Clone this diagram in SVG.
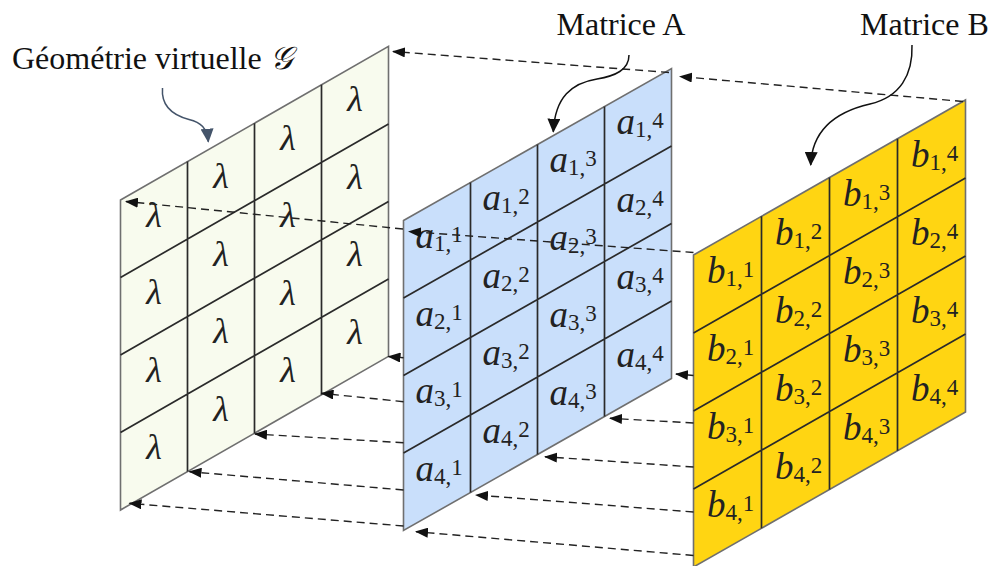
<svg xmlns="http://www.w3.org/2000/svg" width="997" height="566" viewBox="0 0 997 566">
<style>
.ol{stroke:#6f6f6f;stroke-width:1.6;stroke-linejoin:miter}
.in{stroke:#2a2a2a;stroke-width:1.7;fill:none}
.gf{fill:#f8fbee}
.af{fill:#c9dffb}
.bf{fill:#ffd512}
.lam{font-family:"Liberation Serif","Times New Roman",serif;font-style:italic;font-size:36px;fill:#222;text-anchor:middle}
.m{font-family:"Liberation Serif","Times New Roman",serif;font-style:italic;font-size:37px;fill:#222;text-anchor:middle}
.s{font-size:23px;font-style:normal}
.lbl{font-family:"Liberation Serif","Times New Roman",serif;font-size:32px;fill:#111}
.dash{fill:none;stroke:#222;stroke-width:1.4;stroke-dasharray:8 5;marker-end:url(#ah)}
.curve{fill:none;stroke:#111;stroke-width:1.5}
</style>
<defs>
<marker id="ah" markerUnits="userSpaceOnUse" markerWidth="13" markerHeight="10" refX="12" refY="5" orient="auto"><path d="M0,0 L13,5 L0,10 z" fill="#111"/></marker>
<marker id="ahc" markerUnits="userSpaceOnUse" markerWidth="14" markerHeight="13" refX="13" refY="6.5" orient="auto"><path d="M0,0 L14,6.5 L0,13 z" fill="#111"/></marker>
<marker id="ahg" markerUnits="userSpaceOnUse" markerWidth="14" markerHeight="13" refX="13" refY="6.5" orient="auto"><path d="M0,0 L14,6.5 L0,13 z" fill="#44546a"/></marker>
</defs>
<rect width="997" height="566" fill="#fff"/>

<g id="grid-G">
<polygon class="ol gf" points="120.5,200 388.5,46.4 388.5,356.4 120.5,510"/>
<path class="in" d="M187.5,161.6V471.6M254.5,123.2V433.2M321.5,84.8V394.8M120.5,277.5L388.5,123.9M120.5,355L388.5,201.4M120.5,432.5L388.5,278.9"/>
<text class="lam" x="154" y="226.5">λ</text>
<text class="lam" x="154" y="304">λ</text>
<text class="lam" x="154" y="381.5">λ</text>
<text class="lam" x="154" y="459">λ</text>
<text class="lam" x="221" y="188.1">λ</text>
<text class="lam" x="221" y="265.6">λ</text>
<text class="lam" x="221" y="343.1">λ</text>
<text class="lam" x="221" y="420.6">λ</text>
<text class="lam" x="288" y="149.7">λ</text>
<text class="lam" x="288" y="227.2">λ</text>
<text class="lam" x="288" y="304.7">λ</text>
<text class="lam" x="288" y="382.2">λ</text>
<text class="lam" x="355" y="111.3">λ</text>
<text class="lam" x="355" y="188.8">λ</text>
<text class="lam" x="355" y="266.3">λ</text>
<text class="lam" x="355" y="343.8">λ</text>
</g>

<g id="grid-A">
<polygon class="ol af" points="403.5,220.5 671.5,68.5 671.5,378.5 403.5,530.5"/>
<path class="in" d="M470.5,182.5V492.5M537.5,144.5V454.5M604.5,106.5V416.5M403.5,298L671.5,146M403.5,375.5L671.5,223.5M403.5,453L671.5,301"/>
<text class="m" x="439" y="248.25">a<tspan class="s" dy="3">1,</tspan><tspan class="s" dy="-9">1</tspan></text>
<text class="m" x="439" y="325.75">a<tspan class="s" dy="3">2,</tspan><tspan class="s" dy="-9">1</tspan></text>
<text class="m" x="439" y="403.25">a<tspan class="s" dy="3">3,</tspan><tspan class="s" dy="-9">1</tspan></text>
<text class="m" x="439" y="480.75">a<tspan class="s" dy="3">4,</tspan><tspan class="s" dy="-9">1</tspan></text>
<text class="m" x="506" y="210.25">a<tspan class="s" dy="3">1,</tspan><tspan class="s" dy="-9">2</tspan></text>
<text class="m" x="506" y="287.75">a<tspan class="s" dy="3">2,</tspan><tspan class="s" dy="-9">2</tspan></text>
<text class="m" x="506" y="365.25">a<tspan class="s" dy="3">3,</tspan><tspan class="s" dy="-9">2</tspan></text>
<text class="m" x="506" y="442.75">a<tspan class="s" dy="3">4,</tspan><tspan class="s" dy="-9">2</tspan></text>
<text class="m" x="573" y="172.25">a<tspan class="s" dy="3">1,</tspan><tspan class="s" dy="-9">3</tspan></text>
<text class="m" x="573" y="249.75">a<tspan class="s" dy="3">2,</tspan><tspan class="s" dy="-9">3</tspan></text>
<text class="m" x="573" y="327.25">a<tspan class="s" dy="3">3,</tspan><tspan class="s" dy="-9">3</tspan></text>
<text class="m" x="573" y="404.75">a<tspan class="s" dy="3">4,</tspan><tspan class="s" dy="-9">3</tspan></text>
<text class="m" x="640" y="134.25">a<tspan class="s" dy="3">1,</tspan><tspan class="s" dy="-9">4</tspan></text>
<text class="m" x="640" y="211.75">a<tspan class="s" dy="3">2,</tspan><tspan class="s" dy="-9">4</tspan></text>
<text class="m" x="640" y="289.25">a<tspan class="s" dy="3">3,</tspan><tspan class="s" dy="-9">4</tspan></text>
<text class="m" x="640" y="366.75">a<tspan class="s" dy="3">4,</tspan><tspan class="s" dy="-9">4</tspan></text>
</g>

<g id="grid-B">
<polygon class="ol bf" points="693.5,255 965.5,100 965.5,412 693.5,567"/>
<path class="in" d="M761.5,216.25V528.25M829.5,177.5V489.5M897.5,138.75V450.75M693.5,333L965.5,178M693.5,411L965.5,256M693.5,489L965.5,334"/>
<text class="m" x="730.5" y="283.3">b<tspan class="s" dy="3">1,</tspan><tspan class="s" dy="-9">1</tspan></text>
<text class="m" x="730.5" y="361.3">b<tspan class="s" dy="3">2,</tspan><tspan class="s" dy="-9">1</tspan></text>
<text class="m" x="730.5" y="439.3">b<tspan class="s" dy="3">3,</tspan><tspan class="s" dy="-9">1</tspan></text>
<text class="m" x="730.5" y="517.3">b<tspan class="s" dy="3">4,</tspan><tspan class="s" dy="-9">1</tspan></text>
<text class="m" x="798.5" y="244.55">b<tspan class="s" dy="3">1,</tspan><tspan class="s" dy="-9">2</tspan></text>
<text class="m" x="798.5" y="322.55">b<tspan class="s" dy="3">2,</tspan><tspan class="s" dy="-9">2</tspan></text>
<text class="m" x="798.5" y="400.55">b<tspan class="s" dy="3">3,</tspan><tspan class="s" dy="-9">2</tspan></text>
<text class="m" x="798.5" y="478.55">b<tspan class="s" dy="3">4,</tspan><tspan class="s" dy="-9">2</tspan></text>
<text class="m" x="866.5" y="205.8">b<tspan class="s" dy="3">1,</tspan><tspan class="s" dy="-9">3</tspan></text>
<text class="m" x="866.5" y="283.8">b<tspan class="s" dy="3">2,</tspan><tspan class="s" dy="-9">3</tspan></text>
<text class="m" x="866.5" y="361.8">b<tspan class="s" dy="3">3,</tspan><tspan class="s" dy="-9">3</tspan></text>
<text class="m" x="866.5" y="439.8">b<tspan class="s" dy="3">4,</tspan><tspan class="s" dy="-9">3</tspan></text>
<text class="m" x="934.5" y="167.05">b<tspan class="s" dy="3">1,</tspan><tspan class="s" dy="-9">4</tspan></text>
<text class="m" x="934.5" y="245.05">b<tspan class="s" dy="3">2,</tspan><tspan class="s" dy="-9">4</tspan></text>
<text class="m" x="934.5" y="323.05">b<tspan class="s" dy="3">3,</tspan><tspan class="s" dy="-9">4</tspan></text>
<text class="m" x="934.5" y="401.05">b<tspan class="s" dy="3">4,</tspan><tspan class="s" dy="-9">4</tspan></text>
</g>

<g id="connectors">
<path class="dash" d="M669,72.5L393,51.5"/>
<path class="dash" d="M403,229L126,201.5"/>
<path class="dash" d="M403.5,357.8L388.5,356.5"/>
<path class="dash" d="M403.5,401.7L321.5,393.3"/>
<path class="dash" d="M403.5,442.7L255,434"/>
<path class="dash" d="M403.5,490L189.5,471.7"/>
<path class="dash" d="M403.5,526L129.5,503.3"/>
<path class="dash" d="M963,101.5L680,76.5"/>
<path class="dash" d="M693.5,252.5L409,231.5"/>
<path class="dash" d="M693.5,375.5L676,374"/>
<path class="dash" d="M693.5,423L610,418.3"/>
<path class="dash" d="M693.5,467L545,456.7"/>
<path class="dash" d="M693.5,512L476,495"/>
<path class="dash" d="M693.5,555.5L416,531.7"/>
</g>

<g id="label-G">
<text class="lbl" x="12" y="68.5">Géométrie virtuelle <tspan font-style="italic" font-family="'DejaVu Serif','Noto Sans','Liberation Serif',serif">𝒢</tspan></text>
<path d="M162.5,88 C161,106 172,115 189,119.5 C201,122.5 207,128 208.3,141.7" fill="none" stroke="#44546a" stroke-width="1.5" marker-end="url(#ahg)"/>
</g>
<g id="label-A">
<text class="lbl" x="556.5" y="35">Matrice A</text>
<path class="curve" d="M629,55 C629,70 615,76 597,79 C572,83 555,97 553.3,131.7" marker-end="url(#ahc)"/>
</g>
<g id="label-B">
<text class="lbl" x="860" y="35">Matrice B</text>
<path class="curve" d="M912,45 C913,75 900,97 870,104 C835,112 812,130 810.7,165" marker-end="url(#ahc)"/>
</g>
</svg>
